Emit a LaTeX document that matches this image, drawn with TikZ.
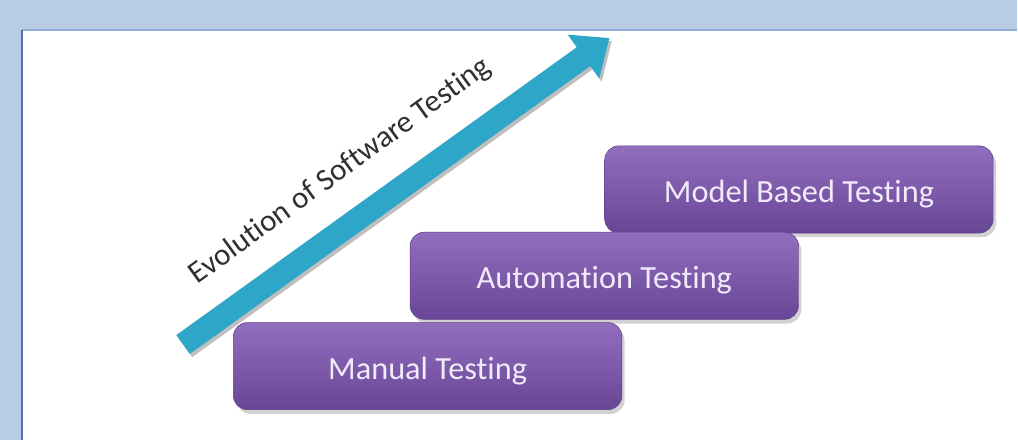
\documentclass[tikz,border=0pt]{standalone}
\usepackage{fontspec}
\setmainfont{Carlito}[RawFeature={-liga;-clig;-calt;-dlig}]
\usepackage{tikz}
\usetikzlibrary{positioning,arrows.meta,shadows,calc}
\definecolor{pageblue}{RGB}{184,204,228}
\definecolor{edgeblue}{RGB}{79,117,168}
\definecolor{topblue}{RGB}{148,175,213}
\definecolor{steptop}{RGB}{146,110,190}
\definecolor{stepbot}{RGB}{104,70,150}
\definecolor{stepedge}{RGB}{96,64,140}
\definecolor{steptext}{RGB}{240,234,250}
\definecolor{arrteal}{RGB}{46,166,199}
\definecolor{labelgray}{RGB}{48,48,48}
\tikzset{
  stepbox/.style={draw=stepedge, top color=steptop, bottom color=stepbot, rounded corners=10pt,
                  minimum width=9.72cm, minimum height=2.18cm, text=steptext,
                  text height=18.4pt, text depth=0pt,
                  font=\fontsize{23}{26}\selectfont, align=center,
                  drop shadow={shadow xshift=2pt, shadow yshift=-3pt, opacity=0.35}},
  evolarrow/.style={-{Triangle[width=1.3cm,length=0.8cm]}, line width=0.58cm, arrteal},
  evollabel/.style={font=\fontsize{22}{25}\selectfont, text=labelgray, rotate=36}
}
\begin{document}
\begin{tikzpicture}
  %% page and panel
  \fill[pageblue] (0,0) rectangle (25.45,11);
  \fill[white] (0.55,0) rectangle (25.45,10.25);
  \draw[topblue,line width=1.2pt] (0.55,10.25) -- (25.45,10.25);
  \draw[edgeblue,line width=1pt] (0.55,0) -- (0.55,10.25);

  %% the three steps
  \node[stepbox] (model)  at (19.99,6.26) {Model Based Testing};
  \node[stepbox] (autom)  at (15.12,4.10) {Automation Testing};
  \node[stepbox] (manual) at (10.70,1.84) {Manual Testing};

  %% evolution arrow
  \coordinate (arrtail) at (4.58,2.38);
  \coordinate (arrtip)  at (15.25,10.05);
  \draw[evolarrow, black, opacity=0.25] ($(arrtail)+(0.06,-0.08)$) -- ($(arrtip)+(0.06,-0.08)$);
  \draw[evolarrow] (arrtail) -- (arrtip);
  \node[evollabel] (evol) at (8.52,6.72) {Evolution of Software Testing};
\end{tikzpicture}
\end{document}
